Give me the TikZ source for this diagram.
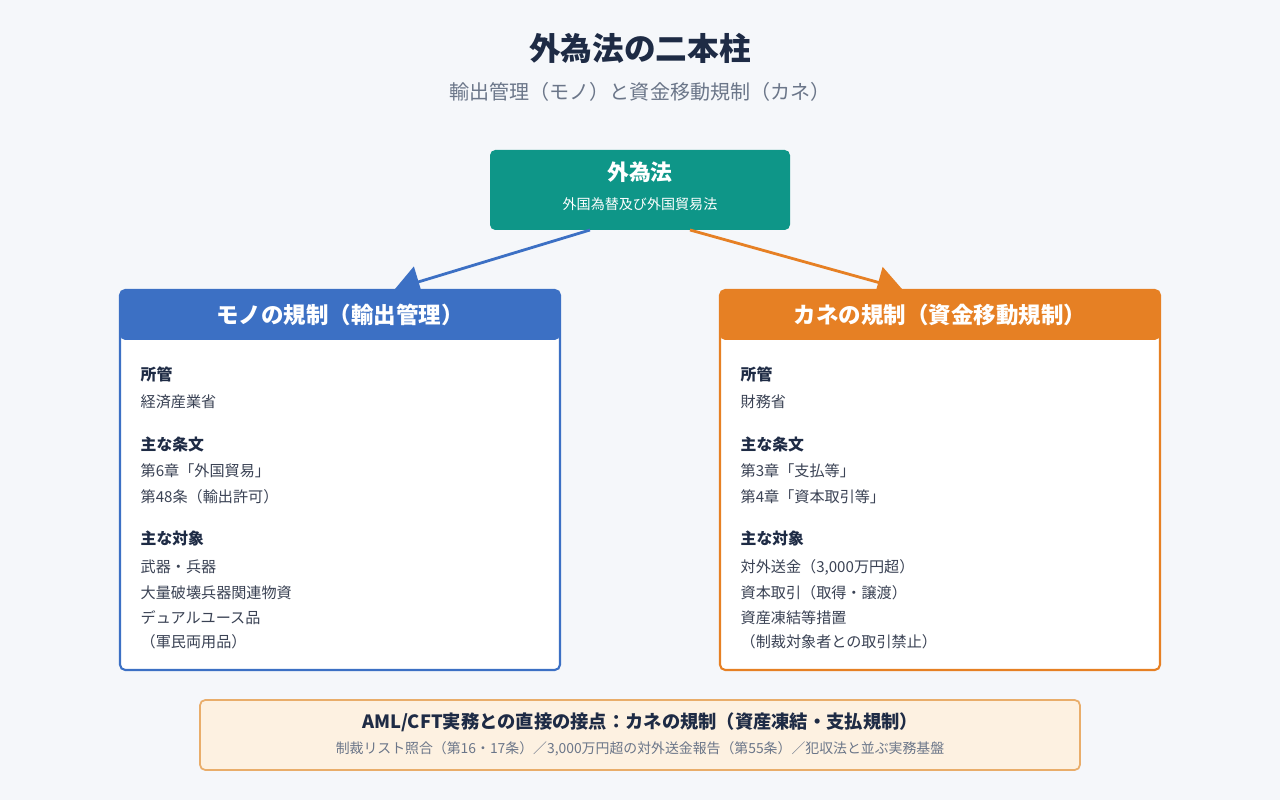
\documentclass[tikz,border=0pt]{standalone}
\usepackage{fontspec}
\setmainfont{Noto Sans CJK JP}
\usetikzlibrary{arrows.meta}
\definecolor{bgc}{HTML}{F5F7FA}
\definecolor{ink}{HTML}{1E2B45}
\definecolor{txt}{HTML}{3A4254}
\definecolor{subc}{HTML}{6B7689}
\definecolor{teal}{HTML}{0E9688}
\definecolor{moblue}{HTML}{3C70C4}
\definecolor{kaor}{HTML}{E68024}
\definecolor{notefill}{HTML}{FDF1E1}
\definecolor{noteline}{HTML}{E9AD6A}
\newcommand{\fs}[1]{\fontsize{#1}{#1}\selectfont}
\tikzset{
  head/.style={font=\fs{6.4}\bfseries,text=white},
  lab/.style={anchor=west,inner sep=0pt,font=\fs{4.5}\bfseries,text=ink},
  item/.style={anchor=west,inner sep=0pt,font=\fs{4.3}},
  link/.style={line width=0.8pt,-{Triangle[length=7pt,width=9pt]}},
}
\begin{document}
\begin{tikzpicture}[x=0.1mm,y=-0.1mm]
	\useasboundingbox[fill=bgc] (0,0) rectangle (1280,800);
	%TITLE
	\node[font=\fs{9}\bfseries,text=ink] (title) at (640,48) {外為法の二本柱};
	\node[font=\fs{5.7},text=subc] (sub) at (640,92) {輸出管理（モノ）と資金移動規制（カネ）};
	%TOP BOX
	\fill[teal,rounded corners=1.5pt] (490,150) rectangle (790,230);
	\node[font=\fs{6.2}\bfseries,text=white] (law) at (640,172) {外為法};
	\node[font=\fs{4},text=white] (lawfull) at (640,204) {外国為替及び外国貿易法};
	\coordinate (lawL) at (590,230);
	\coordinate (lawR) at (690,230);
	%LEFT BOX
	\filldraw[fill=white,draw=moblue,line width=0.6pt,rounded corners=1.5pt] (120,290) rectangle (560,670);
	\fill[moblue,rounded corners=1.5pt] (120,290) rectangle (560,340);
	\node[head] (mono) at (340,315) {モノの規制（輸出管理）};
	\coordinate (monoT) at (395,289);
	\node[lab] at (140,374) {所管};
	\node[item,text=txt] at (140,402) {経済産業省};
	\node[lab] at (140,444) {主な条文};
	\node[item,text=txt] at (140,471) {第6章「外国貿易」};
	\node[item,text=txt] at (140,497) {第48条（輸出許可）};
	\node[lab] at (140,539) {主な対象};
	\node[item,text=txt] at (140,567) {武器・兵器};
	\node[item,text=txt] at (140,593) {大量破壊兵器関連物資};
	\node[item,text=txt] at (140,618) {デュアルユース品};
	\node[item,text=txt] at (140,642) {（軍民両用品）};
	%RIGHT BOX
	\filldraw[fill=white,draw=kaor,line width=0.6pt,rounded corners=1.5pt] (720,290) rectangle (1160,670);
	\fill[kaor,rounded corners=1.5pt] (720,290) rectangle (1160,340);
	\node[head] (kane) at (940,315) {カネの規制（資金移動規制）};
	\coordinate (kaneT) at (902,289);
	\node[lab] at (740,374) {所管};
	\node[item,text=txt] at (740,402) {財務省};
	\node[lab] at (740,444) {主な条文};
	\node[item,text=txt] at (740,471) {第3章「支払等」};
	\node[item,text=txt] at (740,497) {第4章「資本取引等」};
	\node[lab] at (740,539) {主な対象};
	\node[item,text=txt] at (740,567) {対外送金（3,000万円超）};
	\node[item,text=txt] at (740,593) {資本取引（取得・譲渡）};
	\node[item,text=txt] at (740,618) {資産凍結等措置};
	\node[item,text=txt] at (740,642) {（制裁対象者との取引禁止）};
	%ARROWS
	\draw[link,moblue] (lawL) -- (monoT);
	\draw[link,kaor] (lawR) -- (kaneT);
	%NOTE
	\filldraw[fill=notefill,draw=noteline,line width=0.5pt,rounded corners=1.5pt] (200,700) rectangle (1080,770);
	\node[font=\fs{5.2}\bfseries,text=ink] (note) at (640,722) {AML/CFT実務との直接の接点：カネの規制（資産凍結・支払規制）};
	\node[font=\fs{3.95},text=subc] (notesub) at (640,749) {制裁リスト照合（第16・17条）／3,000万円超の対外送金報告（第55条）／犯収法と並ぶ実務基盤};
\end{tikzpicture}
\end{document}
